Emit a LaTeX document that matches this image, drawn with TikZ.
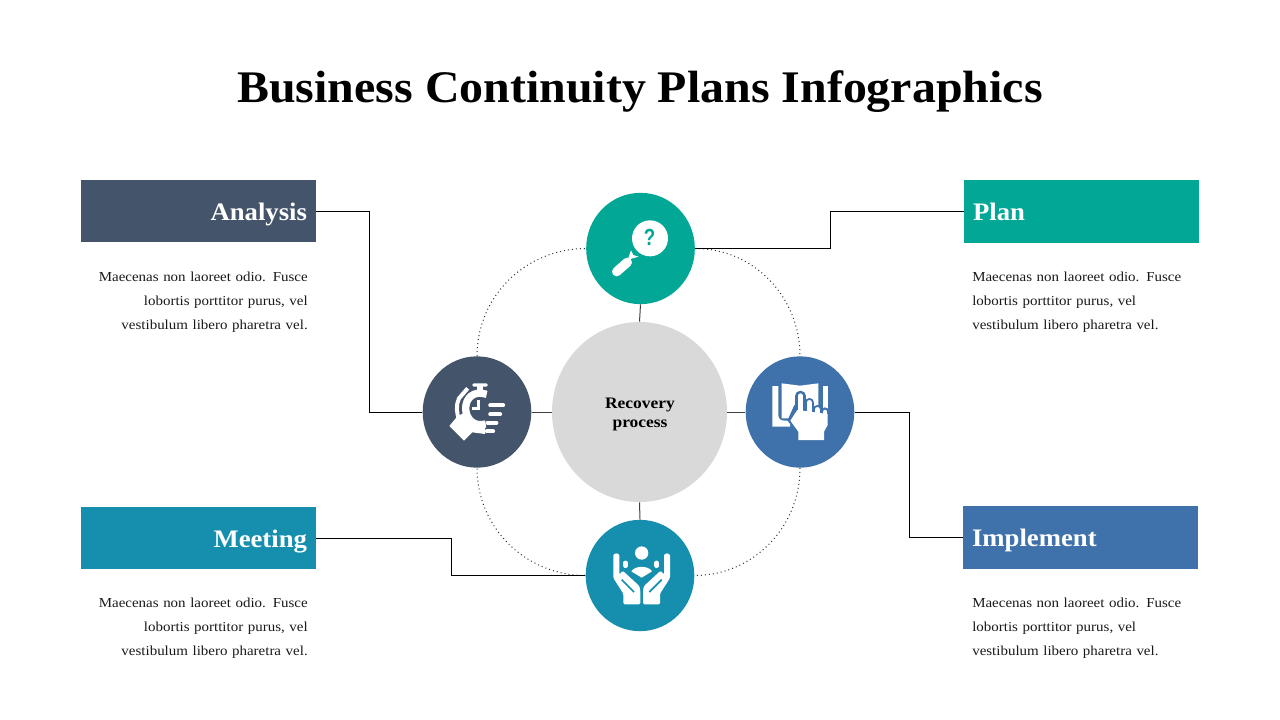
\documentclass[tikz,border=0pt]{standalone}
\usetikzlibrary{shapes.geometric}
\usepackage{fontspec}
\setmainfont{Liberation Serif}
\newfontfamily\bodyf[FakeStretch=1.09]{Liberation Serif}
\newfontfamily\headf[FakeStretch=1.06]{Liberation Serif}
\newfontfamily\qmf[FakeStretch=0.8]{Liberation Sans}
\definecolor{cslate}{HTML}{44546A}
\definecolor{cteal}{HTML}{02A795}
\definecolor{cblue}{HTML}{3F72AB}
\definecolor{ccyan}{HTML}{158FAD}
\definecolor{cgray}{HTML}{D9D9D9}
\tikzset{
  x=0.75pt,y=-0.75pt,
  banner/.style={fill=#1,text=white,minimum width=176.25pt,minimum height=46.8pt,inner xsep=6.75pt,inner ysep=0pt,text width=162.75pt,text height=16pt,text depth=2.5pt,font=\headf\bfseries\fontsize{18.9}{22}\selectfont},
  bodytxt/.style={inner sep=0pt,text width=165pt,text=black!90,font=\bodyf\fontsize{10.3}{18}\selectfont},
  disc/.style={ellipse,fill=#1,inner sep=0pt,minimum width=81.5pt,minimum height=83.5pt},
  conn/.style={draw=black,line width=0.75pt},
  spoke/.style={draw=black!75,line width=0.75pt},
  dots/.style={draw=black!80,line width=0.75pt,dash pattern=on 0.75pt off 2.25pt},
  ico/.style={fill=white,draw=none},
}
\begin{document}
\begin{tikzpicture}
\useasboundingbox (0,0) rectangle (1280,720);
\node[font=\headf\bfseries\fontsize{33.9}{38}\selectfont] (title) at (640,92) {Business Continuity Plans Infographics};

\node[banner=cslate,align=right] (analysis) at (198.5,211.2) {Analysis};
\node[banner=cteal,align=left] (plan) at (1081.5,211.5) {Plan};
\node[banner=ccyan,align=right] (meeting) at (198.5,538) {Meeting};
\node[banner=cblue,align=left] (implement) at (1080.5,537.5) {Implement};

\node[bodytxt,align=right,anchor=north east] (t1) at (308,272) {Maecenas non laoreet odio. Fusce\\ lobortis porttitor purus, vel\\ vestibulum libero pharetra vel.};
\node[bodytxt,align=left,anchor=north west] (t2) at (972,272) {Maecenas non laoreet odio. Fusce\\ lobortis porttitor purus, vel\\ vestibulum libero pharetra vel.};
\node[bodytxt,align=right,anchor=north east] (t3) at (308,598) {Maecenas non laoreet odio. Fusce\\ lobortis porttitor purus, vel\\ vestibulum libero pharetra vel.};
\node[bodytxt,align=left,anchor=north west] (t4) at (972,598) {Maecenas non laoreet odio. Fusce\\ lobortis porttitor purus, vel\\ vestibulum libero pharetra vel.};

\node[ellipse,fill=cgray,inner sep=0pt,minimum width=131.25pt,minimum height=135pt] (hub) at (639.5,412) {};
\node[align=center,font=\bodyf\bfseries\fontsize{12}{14.4}\selectfont,text=black] (hublabel) at (640,414.5) {Recovery\\process};

\node[disc=cteal] (top) at (640.5,248.5) {};
\node[disc=cslate] (left) at (477,412) {};
\node[disc=cblue] (right) at (800,412) {};
\node[disc=ccyan] (bottom) at (640,575.5) {};

% dotted ring
\draw[dots] (top.east) to[out=0,in=90] (right.north);
\draw[dots] (right.south) to[out=-90,in=0] (bottom.east);
\draw[dots] (bottom.west) to[out=180,in=-90] (left.south);
\draw[dots] (left.north) to[out=90,in=180] (top.west);

% spokes
\draw[spoke] (hub.north) -- (top.south);
\draw[spoke] (hub.south) -- (bottom.north);
\draw[spoke] (hub.west) -- (left.east);
\draw[spoke] (hub.east) -- (right.west);

% connectors
\draw[conn] (analysis.east) -- ++(53,0) |- (left.west);
\draw[conn] (plan.west) -- ++(-133.5,0) |- (top.east);
\draw[conn] (implement.west) -- ++(-53.5,0) |- (right.east);
\draw[conn] (meeting.east) -- ++(135,0) |- (bottom.west);

% top icon: magnifier
\begin{scope}[shift={(580,185)},x=0.25pt,y=-0.25pt]
  \fill[ico] (210,160) circle (54 and 54);
  \fill[ico] (143,224) -- (153,196) -- (160,210) -- (176,215) -- cycle;
  \draw[white,line width=7pt,line cap=round] (110,260) -- (142,232);
  \node[text=cteal,font=\qmf\bfseries\fontsize{17.5}{18}\selectfont,inner sep=0pt] (qm) at (209,156) {?};
\end{scope}

% left icon: stopwatch and hand
\begin{scope}[shift={(415,350)},x=0.25pt,y=-0.25pt]
  \fill[ico,rounded corners=1pt] (172,100) rectangle (218,110);
  \fill[ico] (186,108) rectangle (205,122);
  \draw[white,line width=3pt] (158,115) -- (132,145) .. controls (122,165) and (125,190) .. (132,208);
  \fill[ico] (128,198) -- (103,228) -- (147,272) -- (172,247) -- (210,252) -- (210,225) -- (175,215) -- (145,190) -- cycle;
  \draw[white,line width=5.5pt] (215,133) .. controls (175,120) and (152,145) .. (152,175) .. controls (152,205) and (175,232) .. (212,222);
  \draw[white,line width=2pt] (190,150) -- (190,176) -- (170,176);
  \draw[white,line width=3.2pt,line cap=round] (226,166) -- (264,166);
  \draw[white,line width=3.2pt,line cap=round] (226,193) -- (255,193);
  \draw[white,line width=3.2pt,line cap=round] (218,218) -- (244,218);
  \draw[white,line width=3.2pt,line cap=round] (216,244) -- (234,244);
\end{scope}

% right icon: book and hand
\begin{scope}[shift={(740,350)},x=0.25pt,y=-0.25pt]
  \fill[ico] (97,108) -- (115,108) -- (115,195) .. controls (115,207) and (122,212) .. (135,212) -- (150,212) -- (150,230) -- (97,230) -- cycle;
  \fill[ico] (125,100) -- (180,107) -- (235,100) -- (235,170) -- (200,205) -- (125,205) -- cycle;
  \fill[ico] (248,108) -- (265,108) -- (265,180) -- (248,180) -- cycle;
  \draw[cblue,line width=8pt,line cap=round] (181,195) -- (181,138);
  \draw[cblue,line width=6.5pt,line cap=round] (208,195) -- (208,157);
  \draw[cblue,line width=6.5pt,line cap=round] (232,195) -- (232,178);
  \draw[cblue,line width=6pt,line cap=round] (255,195) -- (255,184);
  \draw[white,line width=4pt,line cap=round] (181,195) -- (181,138);
  \draw[white,line width=4pt,line cap=round] (208,195) -- (208,158);
  \draw[white,line width=4pt,line cap=round] (232,195) -- (232,179);
  \draw[white,line width=3.4pt,line cap=round] (255,195) -- (255,186);
  \fill[cblue] (163,165) -- (172,175) -- (172,195) -- (160,232) -- (142,212) -- cycle;
  \fill[ico] (175,270) -- (252,270) -- (252,245) -- (263,225) -- (263,192) -- (172,180) -- (151,212) -- (175,245) -- cycle;
\end{scope}

% bottom icon: hands and person
\begin{scope}[shift={(580,512)},x=0.25pt,y=-0.25pt]
  \fill[ico] (185,123) circle (20 and 20);
  \fill[ico] (154,178) .. controls (165,160) and (205,160) .. (216,178) -- (185,197) -- cycle;
  \draw[white,line width=3.6pt,line cap=round] (137,153) -- (137,161);
  \draw[white,line width=3.6pt,line cap=round] (230,153) -- (230,161);
  \fill[ico,rounded corners=1pt] (100,135) .. controls (100,122) and (118,122) .. (118,135) -- (118,188) -- (128,176) -- (178,222) -- (181,235) -- (181,277) -- (130,277) -- (130,245) -- (100,198) -- cycle;
  \fill[ico,rounded corners=1pt] (270,135) .. controls (270,122) and (252,122) .. (252,135) -- (252,188) -- (242,176) -- (192,222) -- (189,235) -- (189,277) -- (240,277) -- (240,245) -- (270,198) -- cycle;
  \draw[ccyan,line width=1.3pt] (125,203) -- (162,240);
  \draw[ccyan,line width=1.3pt] (245,203) -- (208,240);
\end{scope}
\end{tikzpicture}
\end{document}
